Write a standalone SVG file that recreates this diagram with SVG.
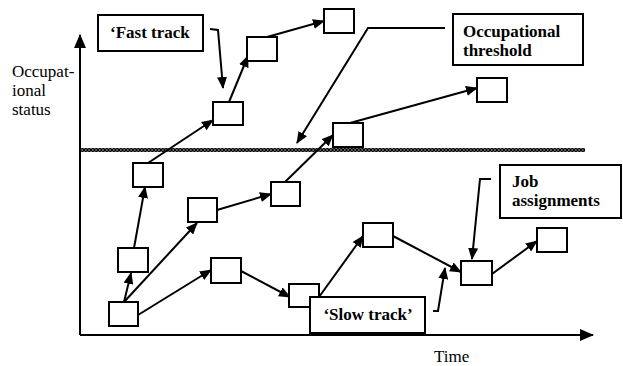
<svg xmlns="http://www.w3.org/2000/svg" width="623" height="366" viewBox="0 0 623 366">
<defs>
<marker id="ah" markerWidth="12" markerHeight="10" refX="11" refY="5" orient="auto" markerUnits="userSpaceOnUse">
<path d="M0,0 L12,5 L0,10 Z" fill="#000"/>
</marker>
<marker id="axh" markerWidth="14" markerHeight="12" refX="13" refY="6" orient="auto" markerUnits="userSpaceOnUse">
<path d="M0,0 L14,6 L0,12 Z" fill="#000"/>
</marker>
<pattern id="chain" x="0" y="148" width="3.5" height="4" patternUnits="userSpaceOnUse">
<circle cx="1.75" cy="2" r="1.35" fill="none" stroke="#000" stroke-width="1.4"/>
</pattern>
</defs>
<style>
.b{fill:#fff;stroke:#000;stroke-width:2}
.c{fill:none;stroke:#000;stroke-width:2;marker-end:url(#ah)}
.p{fill:none;stroke:#000;stroke-width:2;marker-end:url(#ah)}
text{font-family:'Liberation Serif','Times New Roman','DejaVu Serif',serif;font-size:17px;fill:#000}
.lb{font-weight:bold}
</style>
<rect width="623" height="366" fill="#fff"/>
<g id="axes">
<line x1="80" y1="335" x2="80" y2="35" stroke="#000" stroke-width="2" marker-end="url(#axh)"/>
<line x1="80" y1="335" x2="593" y2="335" stroke="#000" stroke-width="2" marker-end="url(#axh)"/>
<text x="12" y="77">Occupat-</text>
<text x="12" y="96">ional</text>
<text x="12" y="115">status</text>
<text x="434" y="362">Time</text>
</g>
<g id="threshold">
<rect x="80" y="148" width="505" height="4" fill="url(#chain)"/>
</g>
<g id="connectors">
<line class="c" x1="124" y1="302" x2="131" y2="273"/>
<line class="c" x1="124" y1="302" x2="197" y2="223"/>
<line class="c" x1="138" y1="315" x2="211" y2="270"/>
<line class="c" x1="134" y1="248" x2="145" y2="187"/>
<line class="c" x1="148" y1="163" x2="213" y2="120"/>
<line class="c" x1="229" y1="102" x2="248" y2="56"/>
<line class="c" x1="267" y1="37" x2="324" y2="21"/>
<line class="c" x1="217" y1="210" x2="271" y2="194"/>
<line class="c" x1="285" y1="182" x2="333" y2="135"/>
<line class="c" x1="350" y1="123" x2="477" y2="88"/>
<line class="c" x1="241" y1="271" x2="290" y2="297"/>
<line class="c" x1="319" y1="297" x2="363" y2="236"/>
<line class="c" x1="393" y1="236" x2="461" y2="272"/>
<line class="c" x1="492" y1="274" x2="537" y2="241"/>
<polyline class="p" points="210,29 218,30 223,88"/>
<polyline class="p" points="445,28 368,28 297,143"/>
<polyline class="p" points="491,179 480,179 472,259"/>
<polyline class="p" points="433,311 438,311 445,268"/>
</g>
<g id="n1"><rect class="b" x="213" y="102" width="30" height="23"/></g>
<g id="n2"><rect class="b" x="247" y="37" width="30" height="24"/></g>
<g id="n3"><rect class="b" x="324" y="9" width="30" height="24"/></g>
<g id="n4"><rect class="b" x="133" y="163" width="30" height="24"/></g>
<g id="n5"><rect class="b" x="118" y="248" width="30" height="24"/></g>
<g id="n6"><rect class="b" x="109" y="302" width="29" height="24"/></g>
<g id="n7"><rect class="b" x="188" y="198" width="29" height="24"/></g>
<g id="n8"><rect class="b" x="271" y="182" width="29" height="24"/></g>
<g id="n9"><rect class="b" x="333" y="123" width="30" height="24"/></g>
<g id="n10"><rect class="b" x="477" y="78" width="30" height="24"/></g>
<g id="n11"><rect class="b" x="211" y="258" width="30" height="25"/></g>
<g id="n12"><rect class="b" x="289" y="284" width="30" height="23"/></g>
<g id="n13"><rect class="b" x="363" y="223" width="30" height="24"/></g>
<g id="n14"><rect class="b" x="461" y="261" width="31" height="24"/></g>
<g id="n15"><rect class="b" x="537" y="228" width="30" height="24"/></g>
<g id="fast-track"><rect class="b" x="98" y="15" width="105" height="36"/><text class="lb" x="110" y="38">‘Fast track</text></g>
<g id="occupational-threshold"><rect class="b" x="453" y="14" width="130" height="51"/><text class="lb" x="463" y="37">Occupational</text><text class="lb" x="463" y="56">threshold</text></g>
<g id="job-assignments"><rect class="b" x="500" y="165" width="121" height="53"/><text class="lb" x="512" y="187">Job</text><text class="lb" x="512" y="206">assignments</text></g>
<g id="slow-track"><rect class="b" x="310" y="297" width="115" height="36"/><text class="lb" x="368" y="320" text-anchor="middle">‘Slow track’</text></g>
</svg>
